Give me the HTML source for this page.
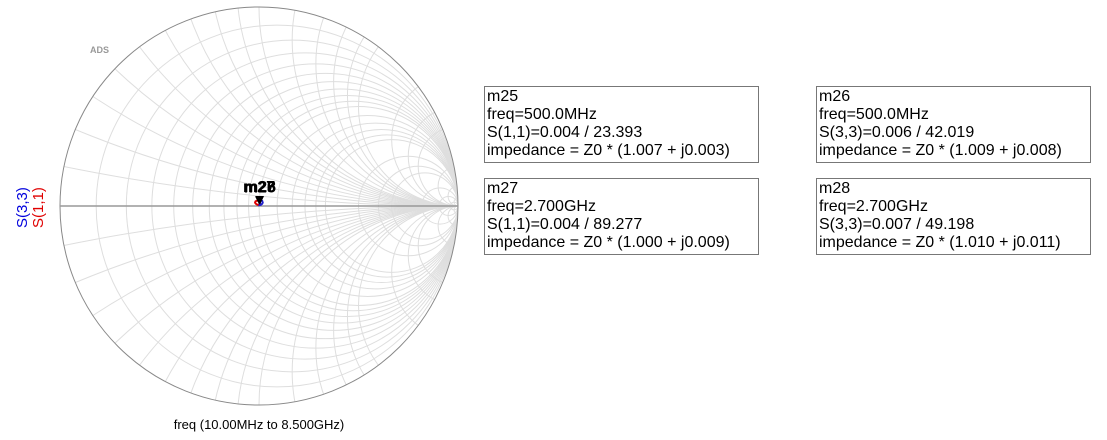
<!DOCTYPE html>
<html><head><meta charset="utf-8"><style>
html,body{margin:0;background:#fff;width:1107px;height:440px;overflow:hidden;font-family:"Liberation Sans",Arial,sans-serif}
.box{position:absolute;border:1px solid #777;font-size:16px;line-height:18px;padding:1px 2px;color:#000;white-space:nowrap;box-sizing:border-box;width:275px;height:77px}
</style></head><body>
<svg id="smith" width="470" height="440" style="position:absolute;left:0;top:0">
<defs><clipPath id="uc"><circle cx="259" cy="206" r="199"/></clipPath></defs>
<g id="grid" clip-path="url(#uc)" fill="none" stroke="#dedede" stroke-width="1"></g>
<circle cx="259" cy="206" r="199" fill="none" stroke="#888" stroke-width="1"/>
<line x1="60" y1="206" x2="458" y2="206" stroke="#999" stroke-width="1.5"/>
<text x="90" y="53" font-size="9" fill="#999" font-weight="bold">ADS</text>
<g id="traces"></g>
<text transform="translate(27,228) rotate(-90)" font-size="15" fill="#0000dd">S(3,3)</text>
<text transform="translate(43,228) rotate(-90)" font-size="15" fill="#e00000">S(1,1)</text>
<text x="259" y="429" font-size="13" text-anchor="middle">freq (10.00MHz to 8.500GHz)</text>
</svg>
<div class="box" style="left:484px;top:86px">m25<br>freq=500.0MHz<br>S(1,1)=0.004 / 23.393<br>impedance = Z0 * (1.007 + j0.003)</div>
<div class="box" style="left:816px;top:86px">m26<br>freq=500.0MHz<br>S(3,3)=0.006 / 42.019<br>impedance = Z0 * (1.009 + j0.008)</div>
<div class="box" style="left:484px;top:178px">m27<br>freq=2.700GHz<br>S(1,1)=0.004 / 89.277<br>impedance = Z0 * (1.000 + j0.009)</div>
<div class="box" style="left:816px;top:178px">m28<br>freq=2.700GHz<br>S(3,3)=0.007 / 49.198<br>impedance = Z0 * (1.010 + j0.011)</div>
<script>
const rValues=[0.1,0.2,0.3,0.4,0.5,0.6,0.7,0.8,0.9,1.0,1.2,1.4,1.6,1.8,2,3,4,5,10,20,50];
const xValues=[0.1,0.2,0.3,0.4,0.5,0.6,0.7,0.8,0.9,1.0,1.2,1.4,1.6,1.8,2,3,4,5,10,20,50];
const s11Mag=[0.015,0.016,0.018,0.02,0.018,0.012,0.004,0.004,0.01];
const s11Ang=[-100,-120,-150,-170,170,140,23.4,89.3,-60];
const s33Mag=[0.016,0.017,0.018,0.019,0.017,0.012,0.006,0.007,0.012];
const s33Ang=[-80,-60,-30,-10,20,40,42,49.2,-70];
const markerNames=['m25','m26','m27','m28'];
const markerMag=[0.004,0.006,0.004,0.007];
const markerAng=[23.393,42.019,89.277,49.198];
const CX=259,CY=206,R=199;
const px=g=>CX+g*R, py=g=>CY-g*R;
const NS='http://www.w3.org/2000/svg';
const grid=document.getElementById('grid');
function mk(tag,attrs,parent){const e=document.createElementNS(NS,tag);for(const k in attrs)e.setAttribute(k,attrs[k]);parent.appendChild(e);return e;}
rValues.forEach(r=>{const c=mk('circle',{cx:px(r/(1+r)),cy:CY,r:R/(1+r)},grid);

});
xValues.forEach(x=>{[1,-1].forEach(s=>{const c=mk('circle',{cx:px(1),cy:py(s/x),r:R/x},grid);

});});
const tr=document.getElementById('traces');
function trace(mag,ang,color,name){let d='';mag.forEach((m,i)=>{const a=ang[i]*Math.PI/180;d+=(i?'L':'M')+px(m*Math.cos(a))+','+py(m*Math.sin(a)+0.02);});
const p=mk('path',{d:d+'Z',fill:'none',stroke:color,'stroke-width':2},tr);

}
trace(s11Mag,s11Ang,'#e00000','trace-s11');
trace(s33Mag,s33Ang,'#2020cc','trace-s33');
markerNames.forEach((n,i)=>{const a=markerAng[i]*Math.PI/180;const x=px(markerMag[i]*Math.cos(a)),y=py(markerMag[i]*Math.sin(a));
const t=mk('path',{d:`M${x-4},${y-9}L${x+4},${y-9}L${x},${y-1}Z`,fill:'#000'},tr);


const l=mk('text',{x:x,y:y-13,'font-size':16,'font-weight':'bold','text-anchor':'middle',fill:'#000'},tr);l.textContent=n;

});
</script>
</body></html>
